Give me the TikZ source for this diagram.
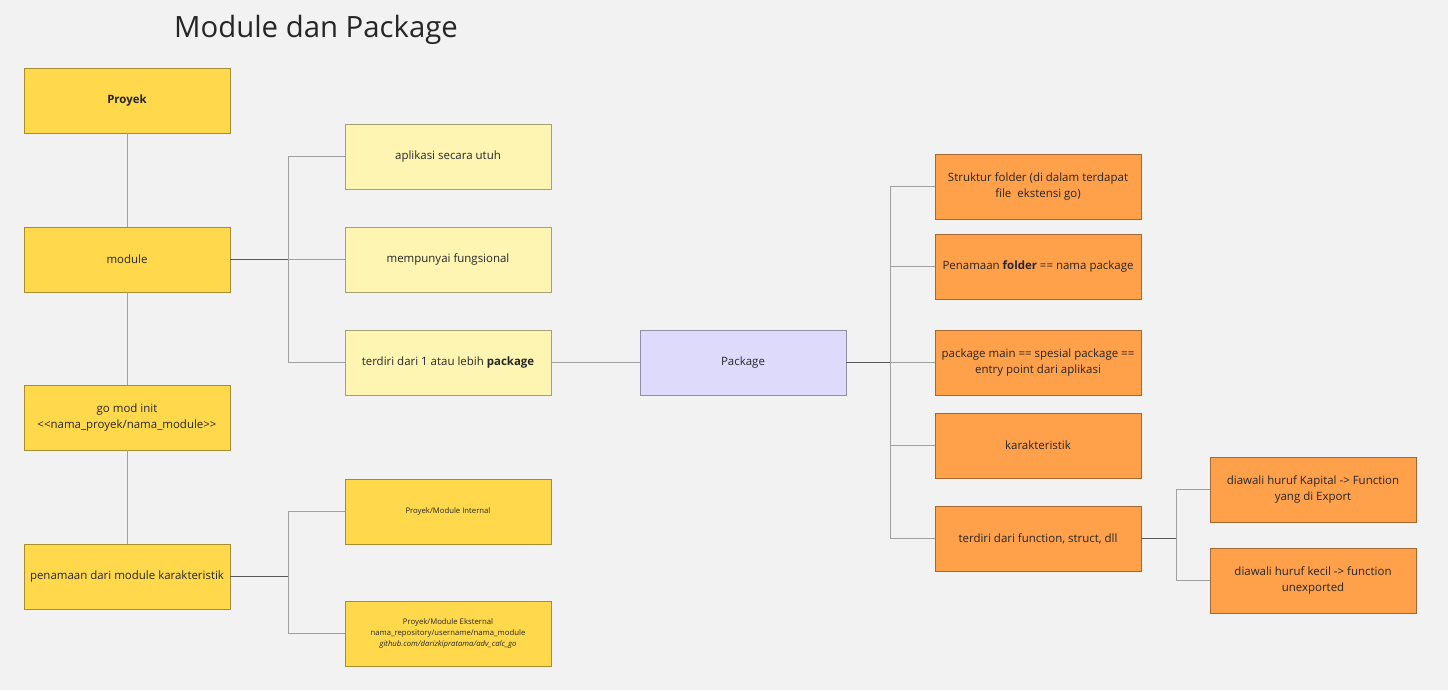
\documentclass[tikz,border=0pt]{standalone}
\usepackage{fontspec}
\setmainfont{Open Sans}
\usetikzlibrary{positioning}
\definecolor{latar}{HTML}{F2F2F2}
\definecolor{kuning}{HTML}{FFD94B}
\definecolor{kuningmuda}{HTML}{FFF5B3}
\definecolor{ungu}{HTML}{DDDAFC}
\definecolor{oranye}{HTML}{FFA04B}
\definecolor{garis}{HTML}{A0A0A0}
\tikzset{
  every node/.style={font=\fontsize{8.6}{11.5}\selectfont, text=black!85},
  kotak/.style={draw=#1!65!black, fill=#1, line width=0.6pt, minimum width=154.5pt,
    minimum height=48.75pt, align=center, inner sep=0.5pt},
  kecil/.style={font=\fontsize{5.8}{8}\selectfont},
  cabang/.style={draw=garis, line width=0.7pt},
  batang/.style={draw=black!65, line width=0.8pt}
}
\begin{document}
\begin{tikzpicture}[x=0.75pt,y=-0.75pt]
  \fill[latar] (0,0) rectangle (1448,690);
  \useasboundingbox (0,0) rectangle (1448,690);
  \node[font=\fontsize{22}{27}\selectfont, text=black!85] (judul) at (316,30) {Module dan Package};
  % kolom kiri
  \node[kotak=kuning] (proyek) at (127,100.5) {\textbf{Proyek}};
  \node[kotak=kuning] (module) at (127,259.5) {module};
  \node[kotak=kuning] (gomod) at (127,417.5) {go mod init\\<\kern0pt<nama\_proyek/nama\_module>\kern0pt>};
  \node[kotak=kuning] (penamaan) at (127,576.5) {penamaan dari module karakteristik};
  % isi module
  \node[kotak=kuningmuda] (utuh) at (448,156.5) {aplikasi secara utuh};
  \node[kotak=kuningmuda] (fungsi) at (448,259.5) {mempunyai fungsional};
  \node[kotak=kuningmuda] (terdiri) at (448,362.5) {terdiri dari 1 atau lebih \textbf{package}};
  \node[kotak=kuning, kecil] (internal) at (448,511.5) {Proyek/Module Internal};
  \node[kotak=kuning, kecil] (eksternal) at (448,633.5) {Proyek/Module Eksternal\\nama\_repository/username/nama\_module\\\textit{github.com/darizkipratama/adv\_calc\_go}};
  % package
  \node[kotak=ungu] (package) at (743,362.5) {Package};
  \node[kotak=oranye] (struktur) at (1038,186.5) {Struktur folder (di dalam terdapat\\file \ ekstensi go)};
  \node[kotak=oranye] (folder) at (1038,266.5) {Penamaan \textbf{folder} == nama package};
  \node[kotak=oranye] (main) at (1038,362.5) {package main == spesial package ==\\entry point dari aplikasi};
  \node[kotak=oranye] (karakter) at (1038,445.5) {karakteristik};
  \node[kotak=oranye] (function) at (1038,538.5) {terdiri dari function, struct, dll};
  \node[kotak=oranye] (kapital) at (1313,489.5) {diawali huruf Kapital -> Function\\yang di Export};
  \node[kotak=oranye] (huruf) at (1313,580.5) {diawali huruf kecil -> function\\unexported};

  \draw[cabang] (proyek) -- (module) (module) -- (gomod) (gomod) -- (penamaan);
  \draw[cabang] (288,259.5) |- (utuh.west) (288,259.5) |- (terdiri.west) (288,259.5) -- (fungsi.west);
  \draw[batang] (module.east) -- (288,259.5);
  \draw[cabang] (288,576.5) |- (internal.west) (288,576.5) |- (eksternal.west);
  \draw[batang] (penamaan.east) -- (288,576.5);
  \draw[cabang] (terdiri.east) -- (package.west);
  \draw[cabang] (890,362.5) |- (struktur.west) (890,362.5) |- (folder.west)
    (890,362.5) |- (karakter.west) (890,362.5) |- (function.west) (890,362.5) -- (main.west);
  \draw[batang] (package.east) -- (890,362.5);
  \draw[cabang] (1176,538.5) |- (kapital.west) (1176,538.5) |- (huruf.west);
  \draw[batang] (function.east) -- (1176,538.5);
\end{tikzpicture}
\end{document}
